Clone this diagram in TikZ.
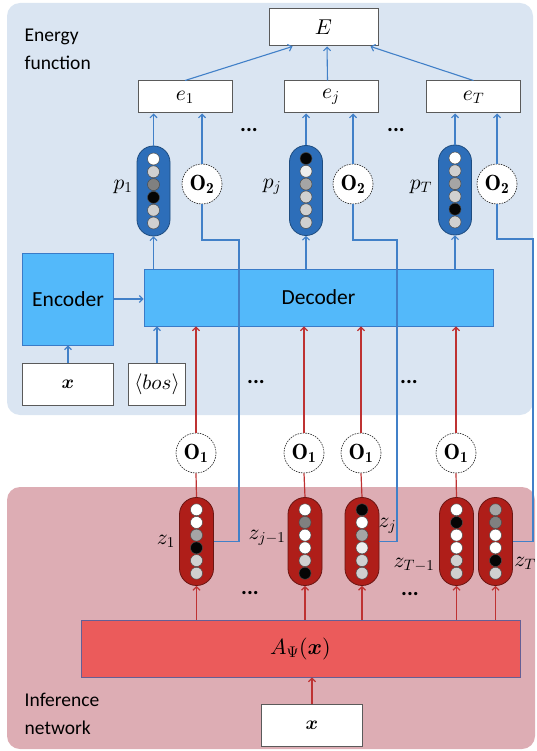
\RequirePackage{fix-cm}
\documentclass[tikz,border=0pt]{standalone}
\usepackage{amsmath,bm}
\usepackage{fontspec}
\DeclareFontShape{OML}{cmm}{m}{it}{<->cmmi10}{}
\DeclareFontShape{OML}{cmm}{b}{it}{<->cmmib10}{}
\DeclareFontShape{OMS}{cmsy}{m}{n}{<->cmsy10}{}
\DeclareFontShape{OMS}{cmsy}{b}{n}{<->cmbsy10}{}
\DeclareFontShape{OT1}{cmr}{m}{n}{<->cmr10}{}
\DeclareFontShape{OT1}{cmr}{bx}{n}{<->cmbx10}{}
\newfontfamily\calib{Carlito}
\usetikzlibrary{arrows.meta,calc}
\definecolor{panelblue}{RGB}{218,229,242}
\definecolor{panelpink}{RGB}{221,173,180}
\definecolor{decfill}{RGB}{83,185,250}
\definecolor{decborder}{RGB}{58,123,200}
\definecolor{afill}{RGB}{235,91,91}
\definecolor{aborder}{RGB}{100,95,150}
\definecolor{bpfill}{RGB}{45,110,185}
\definecolor{bpborder}{RGB}{30,76,128}
\definecolor{rpfill}{RGB}{175,30,25}
\definecolor{rpborder}{RGB}{106,21,18}
\definecolor{lineblue}{RGB}{65,128,200}
\definecolor{linered}{RGB}{190,50,50}
\definecolor{boxgray}{RGB}{90,90,90}
\definecolor{lg}{RGB}{208,208,208}
\definecolor{mg}{RGB}{165,165,165}
\definecolor{dg}{RGB}{128,128,128}
\definecolor{vl}{RGB}{238,238,238}
\definecolor{nb}{RGB}{5,5,5}
\tikzset{
  bl/.style={draw=lineblue, line width=1.1pt},
  rd/.style={draw=linered, line width=1.2pt},
  tip/.style={-{Straight Barb[length=3.5pt,width=7pt]}},
  wbox/.style={draw=boxgray, fill=white, line width=1pt, inner sep=0pt, font=\fontsize{21.5}{23}\selectfont},
  opnode/.style={circle, draw=black!85, dash pattern=on 1.6pt off 1pt, fill=white, minimum size=40pt, inner sep=0pt, line width=0.6pt, font=\fontsize{22}{24}\selectfont},
  bpill/.style={draw=bpborder, fill=bpfill, rounded corners=16.4pt, minimum width=33pt, minimum height=90pt, line width=0.8pt, inner sep=0pt},
  rpill/.style={draw=rpborder, fill=rpfill, rounded corners=16.9pt, minimum width=34pt, minimum height=88pt, line width=0.8pt, inner sep=0pt},
  cell/.style={circle, draw=black!70, line width=0.5pt, minimum size=12pt, inner sep=0pt},
  mlabel/.style={font=\fontsize{21.5}{23}\selectfont, inner sep=0pt},
  dotsl/.style={font=\calib\bfseries\fontsize{22}{22}\selectfont, inner sep=0pt},
  sidetext/.style={font=\calib\fontsize{19.5}{27.5}\selectfont, align=left, inner sep=0pt},
  netbox/.style={line width=0.9pt, inner sep=0pt, font=\calib\fontsize{21.5}{24}\selectfont},
}
\newcommand\pillcells[3]{\foreach \c [count=\i] in {#2} \node[cell,fill=\c] (#1c\i) at ($(#1)+(0,-#3*2.5+#3*\i-#3)$) {};}
\begin{document}
\begin{tikzpicture}[x=1pt,y=-1pt]
\useasboundingbox (0,0) rectangle (536,751);
% panels
\fill[panelblue, rounded corners=13pt] (7,3) rectangle (533,415);
\fill[panelpink, rounded corners=13pt] (7,487) rectangle (535,749);
\node[sidetext, anchor=north west] (energy) at (24.5,29) {Energy\\function};
\node[sidetext, anchor=north west] (infer) at (24.5,693) {Inference\\network};
% energy boxes
\node[wbox, minimum width=109pt, minimum height=37pt] (E) at (323.5,27.5) {$E$};
\node[wbox, minimum width=94pt, minimum height=32pt] (e1) at (185,97) {$e_1$};
\node[wbox, minimum width=94pt, minimum height=32pt] (ej) at (331,97) {$e_j$};
\node[wbox, minimum width=94pt, minimum height=32pt] (eT) at (473.5,97) {$e_T$};
\node[dotsl] (d1) at (249,130) {...};
\node[dotsl] (d2) at (396,130) {...};
% blue pills
\node[bpill] (p1) at (153.5,191) {};
\node[bpill] (pj) at (306,190.5) {};
\node[bpill] (pT) at (455,190) {};
\pillcells{p1}{white,lg,dg,nb,lg,lg}{12.8}
\pillcells{pj}{nb,vl,mg,lg,lg,lg}{12.8}
\pillcells{pT}{white,lg,mg,lg,nb,lg}{12.8}
\node[mlabel] (lp1) at (123,187) {$p_1$};
\node[mlabel] (lpj) at (272,187) {$p_j$};
\node[mlabel] (lpT) at (421,187) {$p_T$};
\node[opnode] (o2a) at (202,184) {$\mathbf{O_2}$};
\node[opnode] (o2j) at (353,184) {$\mathbf{O_2}$};
\node[opnode] (o2T) at (497,184) {$\mathbf{O_2}$};
% encoder / decoder
\node[netbox, draw=decborder, fill=decfill, minimum width=349pt, minimum height=57pt] (dec) at (318.5,297.5) {Decoder};
\node[netbox, draw=decborder, fill=decfill, minimum width=90.5pt, minimum height=92pt] (enc) at (68,299) {Encoder};
\node[wbox, minimum width=91pt, minimum height=42pt, font=\fontsize{19}{20}\selectfont] (xt) at (68,384) {$\bm{x}$};
\node[wbox, minimum width=57.5pt, minimum height=42pt, font=\fontsize{21}{22}\selectfont] (bos) at (157,384) {$\langle bos\rangle$};
\node[dotsl] (d3) at (256,382) {...};
\node[dotsl] (d4) at (409,382) {...};
% O1
\node[opnode] (o1a) at (196,453) {$\mathbf{O_1}$};
\node[opnode] (o1b) at (304,453) {$\mathbf{O_1}$};
\node[opnode] (o1c) at (361,453) {$\mathbf{O_1}$};
\node[opnode] (o1d) at (456,453) {$\mathbf{O_1}$};
% red pills
\node[rpill] (z1) at (196.5,541.5) {};
\node[rpill] (zjm) at (305,541.5) {};
\node[rpill] (zj) at (362,541.5) {};
\node[rpill] (zTm) at (456.5,541.5) {};
\node[rpill] (zT) at (495.5,541.5) {};
\pillcells{z1}{white,white,mg,nb,lg,lg}{12.7}
\pillcells{zjm}{white,dg,white,white,lg,nb}{12.7}
\pillcells{zj}{nb,white,mg,vl,lg,lg}{12.7}
\pillcells{zTm}{white,nb,white,white,lg,lg}{12.7}
\pillcells{zT}{mg,dg,white,white,nb,lg}{12.7}
\node[mlabel] (lz1) at (166,541) {$z_1$};
\node[mlabel] (lzjm) at (267,538) {$z_{j-1}$};
\node[mlabel] (lzj) at (387.5,526) {$z_j$};
\node[mlabel] (lzTm) at (414,565) {$z_{T-1}$};
\node[mlabel] (lzT) at (525,563) {$z_T$};
\node[dotsl] (d5) at (250,593) {...};
\node[dotsl] (d6) at (410,594) {...};
% inference net
\node[netbox, draw=aborder, fill=afill, minimum width=439pt, minimum height=57pt, font=\fontsize{22}{24}\selectfont] (A) at (300.5,648.5) {$A_\Psi(\bm{x})$};
\node[wbox, minimum width=101.5pt, minimum height=42pt, font=\fontsize{19}{20}\selectfont] (xb) at (312,725) {$\bm{x}$};
% connectors: energy
\draw[bl,tip] (e1.north) -- ($(E.south)+(-31,0)$);
\draw[bl,tip] ($(ej.north)+(-3.5,0)$) -- ($(E.south)+(3.5,0)$);
\draw[bl,tip] (eT.north) -- ($(E.south)+(47,0)$);
\foreach \p/\e in {p1/e1,pj/ej,pT/eT} \draw[bl,tip] (\p.north) -- (\e.south -| \p.north);
\foreach \o/\e in {o2a/e1,o2j/ej,o2T/eT} \draw[bl,tip] (\o.north) -- (\e.south -| \o.north);
\foreach \p in {p1,pj,pT} \draw[bl,tip] (dec.north -| \p) -- (\p.south);
\draw[bl,tip] (enc.east) -- (dec.west |- enc.east);
\draw[bl,tip] (xt.north) -- (enc.south);
\draw[bl,tip] (bos.north) -- (dec.south -| bos.north);
% feedback z -> O2
\coordinate (k1) at (239,240);
\coordinate (k2) at (397,240);
\coordinate (k3) at (533,239);
\draw[bl] (z1.east) -| (k1) -| (o2a.south);
\draw[bl] (zj.east) -| (k2) -| (o2j.south);
\draw[bl] (zT.east) -| (k3) -| (o2T.south);
% red connectors
\foreach \o in {o1a,o1b,o1c,o1d} \draw[rd,tip] (\o.north) -- (dec.south -| \o);
\foreach \z/\o in {z1/o1a,zjm/o1b,zj/o1c,zTm/o1d} \draw[rd] (\z.north) -- (\o.south);
\foreach \z in {z1,zjm,zj,zTm,zT} \draw[rd,tip] (A.north -| \z) -- (\z.south);
\draw[rd,tip] (xb.north) -- (A.south -| xb.north);
\end{tikzpicture}
\end{document}
